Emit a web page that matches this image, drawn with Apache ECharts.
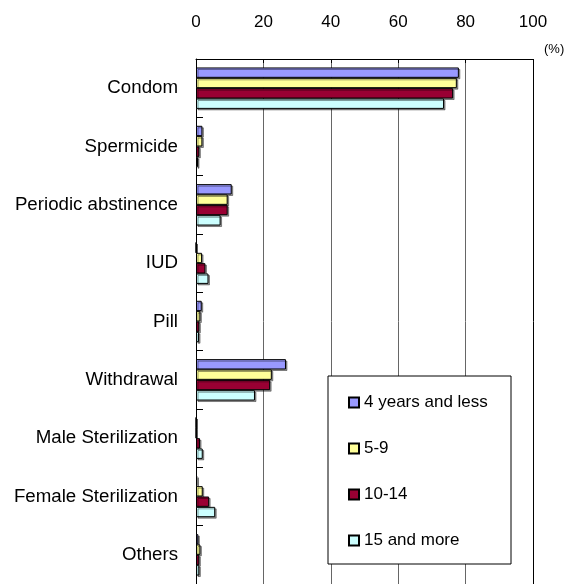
<!DOCTYPE html>
<html>
<head>
<meta charset="utf-8">
<script src="https://cdn.jsdelivr.net/npm/echarts@6/dist/echarts.min.js"></script>
<style>
  html, body { margin: 0; padding: 0; background: #fff; }
  #chart { width: 567px; height: 584px; }
</style>
</head>
<body>
<div id="chart"></div>
<script>
// categories and values (%)
const methods = ['Condom', 'Spermicide', 'Periodic abstinence', 'IUD', 'Pill',
    'Withdrawal', 'Male Sterilization', 'Female Sterilization', 'Others'];
const seriesNames = ['4 years and less', '5-9', '10-14', '15 and more'];
const under5 = [78.0, 1.9, 10.6, 0, 1.7, 26.7, 0, 0.4, 0.7];
const y5to9 = [77.4, 1.9, 9.4, 1.8, 1.3, 22.5, 0, 2.0, 1.3];
const y10to14 = [76.3, 1.0, 9.4, 2.8, 1.0, 22.0, 1.2, 3.9, 1.0];
const y15plus = [73.6, 0.6, 7.3, 3.7, 0.9, 17.5, 2.0, 5.7, 1.0];
const xTicks = [0, 20, 40, 60, 80, 100];

const colors = ['#9999FF', '#FFFF99', '#990033', '#CCFFFF'];
const font = 'Liberation Sans, Arial, sans-serif';

let chart = echarts.init(document.getElementById('chart'));

function makeSeries(name, data, i) {
    return {
        name: name,
        type: 'bar',
        data: data,
        barGap: '0%',
        barCategoryGap: '29%',
        itemStyle: {
            color: colors[i],
            borderColor: '#000',
            borderWidth: 1,
            shadowColor: 'rgba(0,0,0,0.4)',
            shadowOffsetX: 1.5,
            shadowOffsetY: 1.5
        }
    };
}

let option = {
    animation: false,
    textStyle: { fontFamily: font },
    grid: { left: 196, top: 59, width: 337, height: 531 },
    xAxis: {
        type: 'value',
        position: 'top',
        min: xTicks[0],
        max: xTicks[xTicks.length - 1],
        interval: 20,
        axisLine: { show: true, lineStyle: { color: '#000', width: 1 } },
        axisTick: { show: true, inside: true, length: 4, lineStyle: { color: '#000' } },
        axisLabel: { margin: 28, fontSize: 17, color: '#000', fontFamily: font },
        splitLine: {
            show: true,
            lineStyle: { color: ['#000', '#666', '#666', '#666', '#666', '#000'], width: 1 }
        }
    },
    yAxis: {
        type: 'category',
        inverse: true,
        data: methods,
        axisLine: { show: true, lineStyle: { color: '#000', width: 1 } },
        axisTick: { show: true, inside: true, length: 7, lineStyle: { color: '#000' } },
        axisLabel: { margin: 18, fontSize: 18.7, color: '#000', fontFamily: font },
        splitLine: { show: false }
    },
    legend: {
        orient: 'vertical',
        left: 343,
        top: 389,
        z: 10,
        itemWidth: 10,
        itemHeight: 10,
        itemGap: 29,
        icon: 'rect',
        textStyle: { fontSize: 17, lineHeight: 17, color: '#000', fontFamily: font },
        data: seriesNames
    },
    graphic: [
        {
            type: 'rect',
            z: 3,
            shape: { x: 328, y: 376, width: 183, height: 188 },
            style: { fill: '#fff', stroke: '#000', lineWidth: 1 }
        },
        {
            type: 'text',
            left: 544,
            top: 43,
            style: { text: '(%)', fontSize: 13, fill: '#000', fontFamily: font }
        }
    ],
    series: [
        makeSeries(seriesNames[0], under5, 0),
        makeSeries(seriesNames[1], y5to9, 1),
        makeSeries(seriesNames[2], y10to14, 2),
        makeSeries(seriesNames[3], y15plus, 3)
    ]
};

chart.setOption(option);
</script>
</body>
</html>
